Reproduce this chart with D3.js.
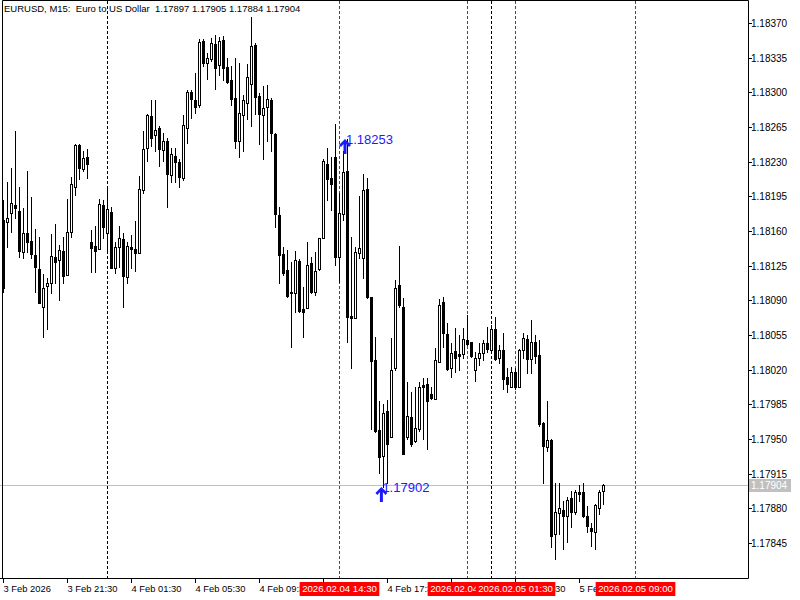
<!DOCTYPE html>
<html>
<head>
<meta charset="utf-8">
<script src="https://cdn.jsdelivr.net/npm/d3@7"></script>
<style>
  body { margin: 0; background: #fff; }
  svg { display: block; }
  text { font-family: "Liberation Sans", Arial, sans-serif; white-space: pre; }
</style>
</head>
<body>
<svg id="chart" width="800" height="600"></svg>
<script>
// EURUSD M15, one entry per bar, starting 3 Feb 2026 17:30
const opens = [
  1.18171,1.18169,1.18178,1.18186,1.18180,1.18139,1.18158,1.18150,1.18136,1.18122,
  1.18083,1.18104,1.18108,1.18134,1.18131,1.18140,1.18116,1.18159,1.18204,1.18247,
  1.18223,1.18235,1.18149,1.18145,1.18142,1.18186,1.18158,1.18179,1.18123,1.18144,
  1.18152,1.18114,1.18144,1.18142,1.18138,1.18201,1.18244,1.18276,1.18257,1.18264,
  1.18242,1.18251,1.18217,1.18236,1.18230,1.18214,1.18264,1.18300,1.18292,1.18287,
  1.18352,1.18330,1.18334,1.18349,1.18328,1.18353,1.18326,1.18312,1.18294,1.18251,
  1.18277,1.18289,1.18308,1.18348,1.18296,1.18277,1.18285,1.18292,1.18258,1.18176,
  1.18137,1.18121,1.18098,1.18097,1.18130,1.18081,1.18082,1.18128,1.18098,1.18122,
  1.18153,1.18228,1.18214,1.18235,1.18134,1.18177,1.18221,1.18074,1.18072,1.18138,
  1.18133,1.18202,1.18093,1.18030,1.17959,1.17933,1.17978,1.17952,1.18022,1.18105,
  1.18083,1.17952,1.17972,1.17948,1.17960,1.18005,1.18006,1.17995,1.17990,1.18028,
  1.18088,1.18056,1.18022,1.18039,1.18036,1.18036,1.18050,1.18048,1.18020,1.18032,
  1.18037,1.18047,1.18040,1.18061,1.18032,1.18040,1.18013,1.18003,1.18018,1.18002,
  1.18040,1.18051,1.18031,1.18048,1.18035,1.17966,1.17942,1.17949,1.17854,1.17875,
  1.17878,1.17872,1.17890,1.17876,1.17896,1.17896,1.17872,1.17860,1.17856,1.17880,
  1.17897
];
const highs = [
  1.18191,1.18209,1.18224,1.18261,1.18204,1.18183,1.18221,1.18194,1.18162,1.18154,
  1.18117,1.18113,1.18157,1.18167,1.18146,1.18154,1.18192,1.18215,1.18248,1.18248,
  1.18241,1.18243,1.18161,1.18165,1.18192,1.18191,1.18203,1.18184,1.18149,1.18165,
  1.18158,1.18149,1.18156,1.18170,1.18216,1.18261,1.18278,1.18292,1.18292,1.18266,
  1.18259,1.18254,1.18244,1.18244,1.18233,1.18277,1.18302,1.18302,1.18320,1.18354,
  1.18354,1.18340,1.18355,1.18358,1.18356,1.18357,1.18335,1.18327,1.18335,1.18330,
  1.18297,1.18329,1.18376,1.18350,1.18299,1.18306,1.18307,1.18294,1.18259,1.18184,
  1.18144,1.18141,1.18129,1.18140,1.18132,1.18103,1.18149,1.18134,1.18139,1.18153,
  1.18233,1.18244,1.18235,1.18268,1.18198,1.18241,1.18253,1.18154,1.18144,1.18195,
  1.18218,1.18214,1.18093,1.18053,1.17988,1.17985,1.17989,1.18052,1.18111,1.18145,
  1.18092,1.18008,1.17997,1.18003,1.18008,1.18012,1.18012,1.18002,1.18042,1.18091,
  1.18093,1.18067,1.18047,1.18062,1.18055,1.18062,1.18075,1.18048,1.18038,1.18047,
  1.18050,1.18063,1.18065,1.18073,1.18045,1.18057,1.18022,1.18023,1.18022,1.18041,
  1.18057,1.18055,1.18070,1.18055,1.18050,1.17967,1.17988,1.17950,1.17906,1.17906,
  1.17887,1.17891,1.17897,1.17899,1.17904,1.17906,1.17882,1.17865,1.17884,1.17899,
  1.17905
];
const lows = [
  1.18098,1.18144,1.18159,1.18173,1.18134,1.18133,1.18139,1.18133,1.18098,1.18087,
  1.18053,1.18061,1.18097,1.18108,1.18090,1.18108,1.18116,1.18154,1.18196,1.18213,
  1.18221,1.18214,1.18119,1.18119,1.18142,1.18153,1.18141,1.18123,1.18118,1.18124,
  1.18083,1.18108,1.18123,1.18120,1.18138,1.18198,1.18231,1.18246,1.18241,1.18226,
  1.18231,1.18184,1.18209,1.18209,1.18204,1.18211,1.18249,1.18274,1.18279,1.18285,
  1.18327,1.18313,1.18332,1.18303,1.18317,1.18312,1.18309,1.18287,1.18244,1.18235,
  1.18241,1.18273,1.18266,1.18278,1.18248,1.18233,1.18251,1.18241,1.18164,1.18108,
  1.18116,1.18093,1.18043,1.18078,1.18078,1.18053,1.18082,1.18097,1.18095,1.18121,
  1.18153,1.18191,1.18181,1.18126,1.18109,1.18171,1.18048,1.18022,1.18072,1.18133,
  1.18113,1.18092,1.17960,1.17957,1.17916,1.17902,1.17906,1.17952,1.18020,1.18083,
  1.17935,1.17950,1.17943,1.17947,1.17958,1.17950,1.17940,1.17990,1.17990,1.18028,
  1.18043,1.18020,1.18013,1.18018,1.18020,1.18032,1.18045,1.18033,1.18009,1.18025,
  1.18030,1.18038,1.18038,1.18030,1.18027,1.18000,1.17997,1.18002,1.18000,1.18002,
  1.18032,1.18017,1.18017,1.18027,1.17963,1.17906,1.17938,1.17841,1.17829,1.17854,
  1.17839,1.17846,1.17861,1.17874,1.17887,1.17871,1.17856,1.17842,1.17839,1.17874,
  1.17884
];
const closes = [
  1.18102,1.18173,1.18188,1.18183,1.18140,1.18158,1.18149,1.18137,1.18124,1.18087,
  1.18102,1.18108,1.18135,1.18129,1.18141,1.18115,1.18159,1.18207,1.18247,1.18224,
  1.18234,1.18228,1.18143,1.18140,1.18187,1.18164,1.18182,1.18123,1.18144,1.18153,
  1.18115,1.18145,1.18142,1.18138,1.18202,1.18243,1.18277,1.18254,1.18262,1.18243,
  1.18251,1.18218,1.18238,1.18230,1.18215,1.18267,1.18300,1.18293,1.18285,1.18351,
  1.18330,1.18335,1.18350,1.18325,1.18352,1.18325,1.18310,1.18293,1.18251,1.18279,
  1.18292,1.18315,1.18347,1.18295,1.18278,1.18284,1.18293,1.18259,1.18177,1.18136,
  1.18118,1.18094,1.18097,1.18131,1.18079,1.18078,1.18126,1.18098,1.18120,1.18153,
  1.18231,1.18212,1.18207,1.18134,1.18178,1.18220,1.18073,1.18072,1.18139,1.18143,
  1.18201,1.18093,1.18029,1.17958,1.17932,1.17976,1.17945,1.18020,1.18102,1.18085,
  1.17935,1.17973,1.17945,1.17961,1.18003,1.18003,1.17988,1.17991,1.18030,1.18085,
  1.18057,1.18021,1.18037,1.18032,1.18034,1.18051,1.18046,1.18034,1.18032,1.18037,
  1.18047,1.18041,1.18061,1.18031,1.18040,1.18011,1.18006,1.18018,1.18002,1.18040,
  1.18052,1.18031,1.18048,1.18034,1.17965,1.17943,1.17949,1.17852,1.17876,1.17880,
  1.17872,1.17888,1.17876,1.17896,1.17894,1.17872,1.17862,1.17857,1.17883,1.17896,
  1.17904
];

const priceTicks = [1.18370,1.18335,1.18300,1.18265,1.18230,1.18195,1.18160,1.18125,
                    1.18090,1.18055,1.18020,1.17985,1.17950,1.17915,1.17880,1.17845];
const timeTickBars = [0,16,32,48,64,80,96,112,128,144];
const timeTickLabels = ["3 Feb 2026","3 Feb 21:30","4 Feb 01:30","4 Feb 05:30","4 Feb 09:30",
                        "4 Feb 13:30","4 Feb 17:30","4 Feb 21:30","5 Feb 01:30","5 Feb 05:30"];
const daySeparatorBars = [26,122];
const markerBars = [84,116,128,158];
const markerLabels = ["2026.02.04 14:30","2026.02.04 22:30","2026.02.05 01:30","2026.02.05 09:00"];
const arrowBars = [85.5,94.6];
const arrowPrices = [1.18253,1.17902];
const bidPrice = 1.17904;
const title = "EURUSD, M15:  Euro to US Dollar  1.17897 1.17905 1.17884 1.17904";

const svg = d3.select('#chart');
const plotRight = 748, plotBottom = 578;

const x = d3.scaleLinear().domain([0, 150]).range([3, 603]);
const y = d3.scaleLinear().domain([1.17845, 1.18370]).range([543, 23]);
const px = v => Math.round(x(v));
const py = v => Math.round(y(v));

// Day separators
svg.selectAll('.sep').data(daySeparatorBars).enter().append('line')
    .attr('x1', d => px(d) + 0.5).attr('x2', d => px(d) + 0.5)
    .attr('y1', 1).attr('y2', plotBottom)
    .attr('stroke', '#000').attr('stroke-dasharray', '3,2');

// Vertical marker lines
svg.selectAll('.mk').data(markerBars).enter().append('line')
    .attr('x1', d => px(d) + 0.5).attr('x2', d => px(d) + 0.5)
    .attr('y1', 1).attr('y2', plotBottom)
    .attr('stroke', '#ff0000').attr('stroke-dasharray', '3,2');

// Bid line
svg.append('line')
    .attr('x1', 0).attr('x2', plotRight)
    .attr('y1', py(bidPrice) + 0.5).attr('y2', py(bidPrice) + 0.5)
    .attr('stroke', '#c0c0c0');

// Candles
const bars = d3.range(opens.length);
const g = svg.append('g');
bars.forEach(i => {
    const cx = px(i);
    const top = py(Math.max(opens[i], closes[i]));
    const bot = py(Math.min(opens[i], closes[i]));
    const bull = closes[i] >= opens[i];
    g.append('line')
        .attr('x1', cx + 0.5).attr('x2', cx + 0.5)
        .attr('y1', py(highs[i])).attr('y2', py(lows[i]) + 1)
        .attr('stroke', '#000');
    if (bot - top < 1) {
        g.append('line')
            .attr('x1', cx - 1).attr('x2', cx + 2)
            .attr('y1', top + 0.5).attr('y2', top + 0.5)
            .attr('stroke', '#000');
    } else {
        g.append('rect')
            .attr('x', cx - 0.5).attr('y', top + 0.5)
            .attr('width', 2).attr('height', bot - top)
            .attr('fill', bull ? '#fff' : '#000')
            .attr('stroke', '#000');
    }
});

// Arrows with price labels
const arrowPath = 'M0,0 L6,6 L4,8 L1.5,5 L1.5,15 L-1.5,15 L-1.5,5 L-4,8 L-6,6 Z';
arrowBars.forEach((b, k) => {
    const ax = x(b), ay = py(arrowPrices[k]);
    svg.append('path')
        .attr('d', arrowPath)
        .attr('transform', `translate(${ax},${ay})`)
        .attr('fill', '#1a1aff');
    svg.append('text')
        .attr('x', ax + 1).attr('y', ay)
        .attr('dy', '0.35em')
        .attr('font-size', 13)
        .attr('fill', '#1a1aff')
        .text(arrowPrices[k].toFixed(5));
});

// Frame
svg.append('path')
    .attr('d', `M2.5,${plotBottom + 0.5} V0.5 H${plotRight + 0.5} V${plotBottom + 0.5} H0`)
    .attr('fill', 'none').attr('stroke', '#000');

// Price axis
priceTicks.forEach(p => {
    const ty = py(p) + 0.5;
    svg.append('line')
        .attr('x1', plotRight).attr('x2', plotRight + 4)
        .attr('y1', ty).attr('y2', ty).attr('stroke', '#000');
    svg.append('text')
        .attr('x', plotRight + 3).attr('y', ty).attr('dy', '0.35em')
        .attr('font-size', 10).attr('fill', '#000')
        .text(p.toFixed(5));
});

// Bid label
const by = py(bidPrice);
svg.append('rect')
    .attr('x', plotRight + 1).attr('y', by - 6)
    .attr('width', 42).attr('height', 13)
    .attr('fill', '#c0c0c0');
svg.append('text')
    .attr('x', plotRight + 3).attr('y', by + 0.5).attr('dy', '0.35em')
    .attr('font-size', 10).attr('fill', '#fff')
    .text(bidPrice.toFixed(5));

// Time axis
timeTickBars.forEach((b, k) => {
    const tx = px(b) + 0.5;
    svg.append('line')
        .attr('x1', tx).attr('x2', tx)
        .attr('y1', plotBottom).attr('y2', plotBottom + 5).attr('stroke', '#000');
    svg.append('text')
        .attr('x', tx).attr('y', 592)
        .attr('font-size', 9.4).attr('fill', '#000')
        .text(timeTickLabels[k]);
});

// Red time labels for the markers
markerBars.forEach((b, k) => {
    const mx = px(b) + 0.5;
    const t = svg.append('text')
        .attr('x', mx).attr('y', 592)
        .attr('text-anchor', 'middle')
        .attr('font-size', 9.6).attr('fill', '#fff')
        .text(markerLabels[k]);
    const w = t.node().getComputedTextLength() + 5;
    svg.insert('rect', () => t.node())
        .attr('x', mx - w / 2).attr('y', 582)
        .attr('width', w).attr('height', 14)
        .attr('fill', '#ff0000');
});

// Title
svg.append('text')
    .attr('x', 4).attr('y', 12)
    .attr('font-size', 9.5).attr('fill', '#000')
    .text(title);
</script>
</body>
</html>
